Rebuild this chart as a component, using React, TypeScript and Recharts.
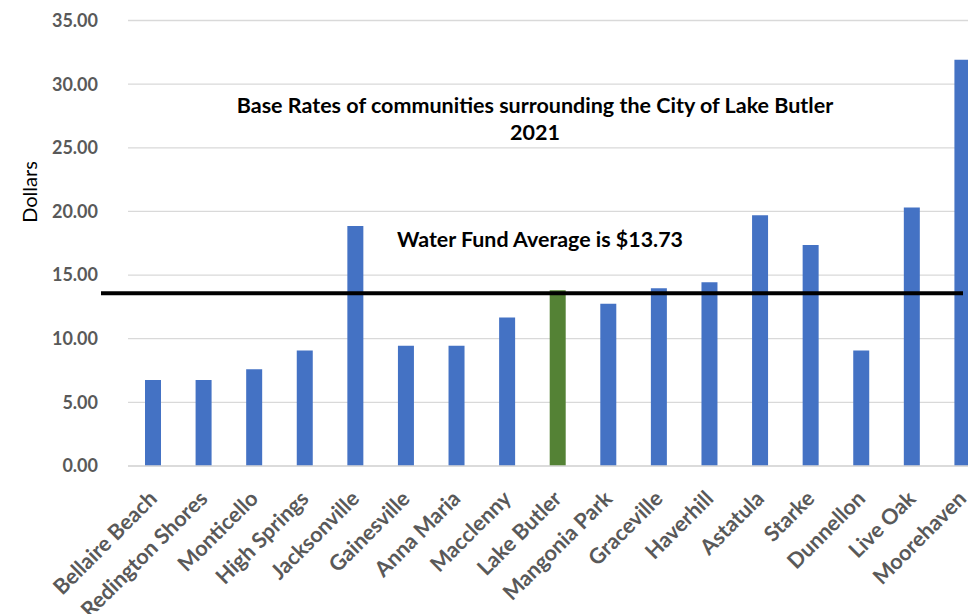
import React from "react";
import { BarChart, Bar, XAxis, YAxis, CartesianGrid, Cell, ReferenceLine } from "recharts";

const communities = [
  "Bellaire Beach", "Redington Shores", "Monticello", "High Springs", "Jacksonville",
  "Gainesville", "Anna Maria", "Macclenny", "Lake Butler", "Mangonia Park",
  "Graceville", "Haverhill", "Astatula", "Starke", "Dunnellon", "Live Oak", "Moorehaven",
];
const baseRates = [6.75, 6.75, 7.61, 9.08, 18.86, 9.44, 9.44, 11.67, 13.81, 12.74, 13.97, 14.44, 19.7, 17.37, 9.08, 20.31, 31.92];
const highlighted = "Lake Butler";
const yTicks = [0, 5, 10, 15, 20, 25, 30, 35];
const averageLineValue = 13.57;
const titleLines = ["Base Rates of communities surrounding the City of Lake Butler", "2021"];
const averageText = "Water Fund Average is $13.73";
const yAxisTitle = "Dollars";

const data = communities.map((name, i) => ({ name, rate: baseRates[i] }));

const FONT = "Lato, 'Open Sans', sans-serif";

const XTick = (props: any) => {
  const { x, y, payload } = props;
  return (
    <g transform={`translate(${x + 5},${y + 34})`}>
      <text
        x={0}
        y={0}
        textAnchor="end"
        transform="rotate(-45)"
        fill="#595959"
        fontSize={21.5}
        fontWeight="bold"
        fontFamily={FONT}
      >
        {payload.value}
      </text>
    </g>
  );
};

const AvgLine = (props: any) => {
  const { x1, x2, y1 } = props;
  return <line x1={x1 - 27} x2={x2 - 25} y1={y1} y2={y1} stroke="#000" strokeWidth={4} />;
};

export default function App() {
  return (
    <div style={{ position: "relative", width: 968, height: 606, overflow: "hidden", background: "#fff" }}>
      <BarChart
        width={1000}
        height={606}
        data={data}
        margin={{ top: 12.5, right: 20, bottom: 0, left: 0 }}
      >
        <CartesianGrid vertical={false} stroke="#d9d9d9" strokeWidth={1.3} />
        <XAxis
          dataKey="name"
          interval={0}
          height={148}
          tickLine={false}
          tickSize={0}
          tickMargin={0}
          axisLine={{ stroke: "#d9d9d9", strokeWidth: 1.3 }}
          tick={<XTick />}
        />
        <YAxis
          width={120}
          domain={[0, 35]}
          ticks={yTicks}
          interval={0}
          axisLine={false}
          tickLine={false}
          tickSize={0}
          tickMargin={30}
          tickFormatter={(v: number) => v.toFixed(2)}
          tick={{ fill: "#595959", fontSize: 18, fontWeight: "bold", fontFamily: FONT }}
        />
        <Bar dataKey="rate" barSize={16} isAnimationActive={false}>
          {data.map((d) => (
            <Cell key={d.name} fill={d.name === highlighted ? "#548235" : "#4472C4"} />
          ))}
        </Bar>
        <ReferenceLine y={averageLineValue} shape={<AvgLine />} />
      </BarChart>
      <div
        style={{
          position: "absolute",
          left: 177,
          width: 700,
          top: 84,
          textAlign: "center",
          fontFamily: FONT,
          fontWeight: "bold",
          fontSize: 21.5,
          lineHeight: "27px",
          color: "#000",
          whiteSpace: "nowrap",
        }}
      >
        {titleLines.map((t) => (
          <div key={t}>{t}</div>
        ))}
      </div>
      <div
        style={{
          position: "absolute",
          left: 332,
          width: 400,
          top: 218,
          textAlign: "center",
          fontFamily: FONT,
          fontWeight: "bold",
          fontSize: 21.4,
          lineHeight: "27px",
          color: "#000",
          whiteSpace: "nowrap",
        }}
      >
        {averageText}
      </div>
      <div
        style={{
          position: "absolute",
          left: 21 - 50,
          top: 184 - 12,
          width: 100,
          height: 24,
          lineHeight: "24px",
          textAlign: "center",
          transform: "rotate(-90deg)",
          fontFamily: FONT,
          fontSize: 20,
          color: "#000",
        }}
      >
        {yAxisTitle}
      </div>
    </div>
  );
}
